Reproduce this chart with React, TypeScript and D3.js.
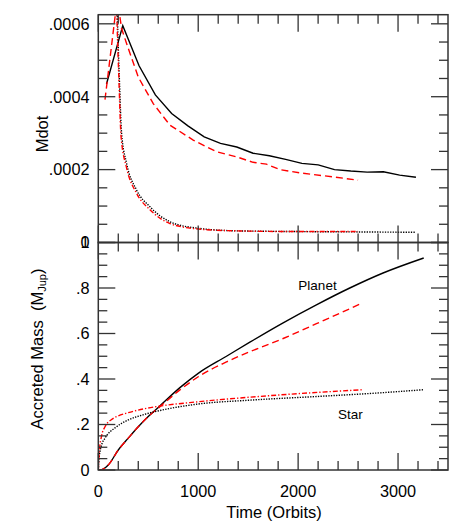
import React from "react"
import { scaleLinear, line, curveLinear, curveMonotoneX, range } from "d3"

// time axis (orbits)
const xMajor = [0, 1000, 2000, 3000]
const xLabels = ["0", "1000", "2000", "3000"]

// top panel: Mdot, in units of 1e-4 M_Jup / orbit
const mdotMajor = [0, 2, 4, 6]
const mdotLabels = ["0", ".0002", ".0004", ".0006"]

const tPlanetA = [82, 245, 408, 571, 734, 897, 1060, 1223, 1386, 1549, 1712, 1875, 2038, 2201, 2364, 2527, 2690, 2853, 3016, 3179]
const mdotPlanetA = [4.35, 5.95, 4.85, 4.05, 3.54, 3.2, 2.9, 2.72, 2.62, 2.45, 2.38, 2.28, 2.17, 2.13, 2.0, 1.96, 1.93, 1.94, 1.85, 1.79]

const tPlanetB = [67, 190, 233, 283, 400, 550, 717, 950, 1183, 1383, 1550, 1683, 1817, 2017, 2350, 2600]
const mdotPlanetB = [3.92, 6.7, 5.87, 5.46, 4.54, 3.81, 3.22, 2.81, 2.49, 2.35, 2.2, 2.15, 2.0, 1.91, 1.8, 1.71]

const tStarA = [150, 190, 212, 233, 283, 383, 517, 717, 1000, 1383, 2000, 2600, 3170]
const mdotStarA = [12, 6.3, 4.4, 3.0, 2.17, 1.44, 0.98, 0.57, 0.39, 0.32, 0.3, 0.29, 0.28]

const tStarB = [145, 185, 207, 228, 283, 383, 517, 717, 1000, 1383, 2000, 2600]
const mdotStarB = [12, 6.3, 4.4, 2.9, 2.05, 1.35, 0.9, 0.52, 0.37, 0.32, 0.3, 0.3]

// bottom panel: accreted mass (M_Jup)
const massMajor = [0, 0.2, 0.4, 0.6, 0.8, 1]
const massLabels = ["0", ".2", ".4", ".6", ".8", "1"]

const tMassPlanetA = [0, 20, 100, 200, 300, 400, 500, 600, 817, 1000, 1283, 1517, 1850, 2183, 2517, 2850, 3257]
const massPlanetA = [0, 0, 0.022, 0.088, 0.14, 0.19, 0.235, 0.275, 0.362, 0.425, 0.5, 0.562, 0.647, 0.726, 0.8, 0.866, 0.932]

const tMassPlanetB = [0, 20, 100, 200, 300, 400, 500, 600, 817, 1000, 1283, 1517, 1850, 2183, 2633]
const massPlanetB = [0, 0, 0.022, 0.088, 0.14, 0.19, 0.235, 0.272, 0.352, 0.41, 0.475, 0.52, 0.578, 0.643, 0.732]

const tMassStarA = [0, 10, 30, 67, 117, 167, 233, 300, 467, 633, 1000, 1517, 2183, 2850, 3257]
const massStarA = [0, 0.06, 0.105, 0.14, 0.168, 0.185, 0.205, 0.22, 0.245, 0.263, 0.29, 0.307, 0.323, 0.34, 0.353]

const tMassStarB = [0, 10, 33, 67, 133, 200, 300, 467, 633, 1000, 1817, 2650]
const massStarB = [0, 0.08, 0.15, 0.19, 0.222, 0.238, 0.252, 0.27, 0.282, 0.3, 0.33, 0.353]

const FONT = "'Liberation Sans', Arial, Helvetica, sans-serif"

function zip(ts, vs) {
    return ts.map((t, i) => [t, vs[i]])
}

export default function App() {
    const left = 98.3, right = 448, top = 14.7, mid = 242.5, bottom = 470
    const major = 17, minor = 9

    const x = scaleLinear().domain([0, 3500]).range([left, right])
    const yTop = scaleLinear().domain([0, 6.25]).range([mid, top])
    const yBot = scaleLinear().domain([0, 1]).range([bottom, mid])

    const xMinor = range(0, 3501, 200)
    const mdotMinor = range(0, 6.26, 0.5)
    const massMinor = range(0, 1.001, 0.05)

    const lineTopPlanet = line().curve(curveLinear).x(d => x(d[0])).y(d => yTop(d[1]))
    const lineTopStar = line().curve(curveMonotoneX).x(d => x(d[0])).y(d => yTop(d[1]))
    const lineBot = line().curve(curveMonotoneX).x(d => x(d[0])).y(d => yBot(d[1]))

    const frame = "#333"
    const isMajor = (v, majors) => majors.some(m => Math.abs(m - v) < 1e-6)

    // ticks for one panel
    const panelTicks = (yScale, yMinorVals, yMajorVals, y0, y1, key) => (
        <g key={key} stroke={frame} strokeWidth={1.3}>
            {yMinorVals.map((v, i) => {
                const len = isMajor(v, yMajorVals) ? major : minor
                const yy = yScale(v)
                return (
                    <g key={"y" + i}>
                        <line x1={left} x2={left + len} y1={yy} y2={yy} />
                        <line x1={right} x2={right - len} y1={yy} y2={yy} />
                    </g>
                )
            })}
            {xMinor.map((v, i) => {
                const len = isMajor(v, xMajor) ? major : minor
                const xx = x(v)
                return (
                    <g key={"x" + i}>
                        <line x1={xx} x2={xx} y1={y0} y2={y0 + len} />
                        <line x1={xx} x2={xx} y1={y1} y2={y1 - len} />
                    </g>
                )
            })}
        </g>
    )

    return (
        <svg width={463} height={524} style={{ position: "absolute", left: 0, top: 0, background: "#fff" }} fontFamily={FONT}>
            <defs>
                <clipPath id="clipTop"><rect x={left} y={top} width={right - left} height={mid - top} /></clipPath>
                <clipPath id="clipBot"><rect x={left} y={mid} width={right - left} height={bottom - mid} /></clipPath>
            </defs>

            {/* curves, top panel */}
            <g clipPath="url(#clipTop)" fill="none" strokeWidth={1.4}>
                <path d={lineTopPlanet(zip(tPlanetA, mdotPlanetA))} stroke="#000" />
                <path d={lineTopPlanet(zip(tPlanetB, mdotPlanetB))} stroke="#ff0000" strokeDasharray="7,4" />
                <path d={lineTopStar(zip(tStarA, mdotStarA))} stroke="#000" strokeDasharray="1.3,1.3" />
                <path d={lineTopStar(zip(tStarB, mdotStarB))} stroke="#ff0000" strokeDasharray="5,2,1.3,2" />
            </g>

            {/* curves, bottom panel */}
            <g clipPath="url(#clipBot)" fill="none" strokeWidth={1.4}>
                <path d={lineBot(zip(tMassPlanetA, massPlanetA))} stroke="#000" />
                <path d={lineBot(zip(tMassPlanetB, massPlanetB))} stroke="#ff0000" strokeDasharray="7,4" />
                <path d={lineBot(zip(tMassStarA, massStarA))} stroke="#000" strokeDasharray="1.3,1.3" />
                <path d={lineBot(zip(tMassStarB, massStarB))} stroke="#ff0000" strokeDasharray="5,2,1.3,2" />
            </g>

            {/* frames and ticks */}
            <rect x={left} y={top} width={right - left} height={mid - top} fill="none" stroke={frame} strokeWidth={1.5} />
            <rect x={left} y={mid} width={right - left} height={bottom - mid} fill="none" stroke={frame} strokeWidth={1.5} />
            {panelTicks(yTop, mdotMinor, mdotMajor, top, mid, "tt")}
            {panelTicks(yBot, massMinor, massMajor, mid, bottom, "bt")}

            {/* tick labels */}
            <g fontSize={16.3} fill="#000" textAnchor="end">
                {mdotMajor.map((v, i) => (
                    <text key={"m" + i} x={89.5} y={yTop(v)} dy="0.36em">{mdotLabels[i]}</text>
                ))}
                {massMajor.map((v, i) => (
                    <text key={"a" + i} x={89.5} y={yBot(v)} dy="0.36em">{massLabels[i]}</text>
                ))}
            </g>
            <g fontSize={16.3} fill="#000" textAnchor="middle">
                {xMajor.map((v, i) => (
                    <text key={"x" + i} x={x(v)} y={496.7}>{xLabels[i]}</text>
                ))}
            </g>

            {/* axis titles */}
            <text x={274} y={518} fontSize={16.5} textAnchor="middle">Time (Orbits)</text>
            <text transform="translate(48,134) rotate(-90)" fontSize={16.5} textAnchor="middle">Mdot</text>
            <text transform="translate(43,349) rotate(-90)" fontSize={16.5} textAnchor="middle" style={{ whiteSpace: "pre" }}>
                {"Accreted Mass  (M"}<tspan fontSize={11} dy={3}>Jup</tspan><tspan dy={-3}>)</tspan>
            </text>

            {/* curve labels */}
            <text x={317.5} y={290} fontSize={13.5} textAnchor="middle">Planet</text>
            <text x={350.5} y={419} fontSize={13.5} textAnchor="middle">Star</text>
        </svg>
    )
}
